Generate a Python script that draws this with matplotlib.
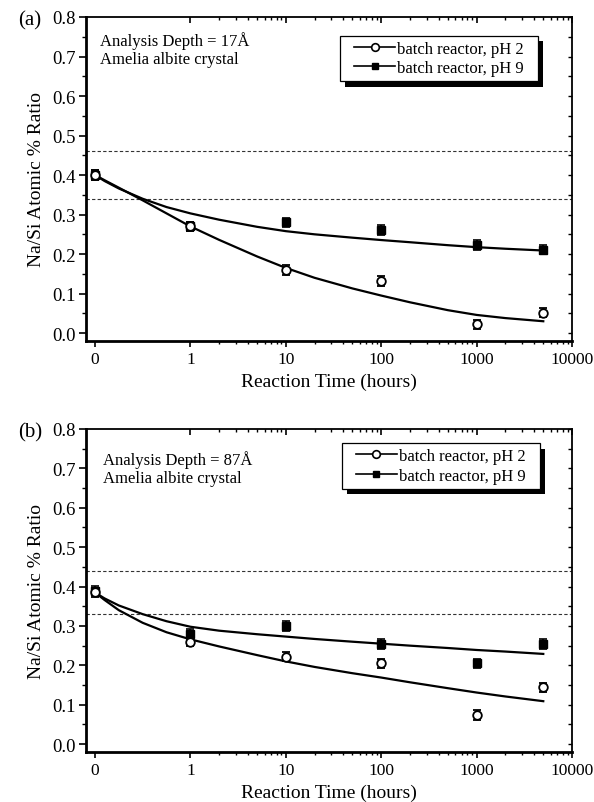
import numpy as np
import matplotlib
matplotlib.use("Agg")
import matplotlib.pyplot as plt
from matplotlib.patches import Rectangle
from matplotlib.transforms import IdentityTransform
from matplotlib.ticker import FixedLocator, NullFormatter

plt.rcParams['font.family'] = ['Liberation Serif', 'DejaVu Serif']

# ---------------- data ----------------
t_data = [0, 1, 10, 100, 1000, 5000]
t_fit = [0, 0.1, 0.25, 0.5, 0.75, 1, 2, 5, 10, 20, 50, 100, 200, 500, 1000, 2000, 5000]

a_ph2 = [0.40, 0.27, 0.16, 0.132, 0.022, 0.052]
a_ph9 = [0.40, 0.27, 0.28, 0.261, 0.223, 0.211]
a_err = 0.012
a_fit_ph2 = [0.400, 0.387, 0.368, 0.336, 0.303, 0.270, 0.236, 0.194, 0.165, 0.140,
             0.113, 0.095, 0.078, 0.058, 0.046, 0.038, 0.030]
a_fit_ph9 = [0.400, 0.385, 0.366, 0.340, 0.319, 0.303, 0.287, 0.269, 0.258, 0.250,
             0.2415, 0.2355, 0.230, 0.2225, 0.2175, 0.2135, 0.209]
a_ref = [0.46, 0.34]

b_ph2 = [0.385, 0.26, 0.222, 0.205, 0.074, 0.144]
b_ph9 = [0.39, 0.28, 0.30, 0.254, 0.205, 0.254]
b_err = 0.012
b_fit_ph2 = [0.385, 0.366, 0.340, 0.308, 0.284, 0.266, 0.248, 0.226, 0.210, 0.196,
             0.180, 0.169, 0.157, 0.142, 0.131, 0.121, 0.109]
b_fit_ph9 = [0.385, 0.370, 0.352, 0.330, 0.312, 0.298, 0.288, 0.279, 0.273, 0.267,
             0.260, 0.255, 0.250, 0.244, 0.239, 0.235, 0.229]
b_ref = [0.44, 0.33]

x_ticks = [0, 1, 10, 100, 1000, 10000]
x_ticklabels = ['0', '1', '10', '100', '1000', '10000']
y_ticks = [0.0, 0.1, 0.2, 0.3, 0.4, 0.5, 0.6, 0.7, 0.8]

legend_labels = ['batch reactor, pH 2', 'batch reactor, pH 9']
xlabel = 'Reaction Time (hours)'
ylabel = 'Na/Si Atomic % Ratio'

# ---------------- figure ----------------
W, H = 594, 803
fig = plt.figure(figsize=(W / 100, H / 100), dpi=100)

minor_x = [m * 10 ** k for k in range(0, 4) for m in range(2, 10)]
minor_y = list(np.arange(0.05, 0.8, 0.1))
XLIM = (-0.094, 10000)
YLIM = (-0.02, 0.8)
PADX = 9  # extra horizontal padding of legend frame (pixels)


def set_scale(a):
    a.set_xscale('symlog', linthresh=1, linscale=0.9)
    a.set_xlim(*XLIM)
    a.set_ylim(*YLIM)


def panel(rect, ph2, ph9, err, fit2, fit9, refs, depth, letter, txt_xy, leg_xy):
    ax = fig.add_axes(rect)
    set_scale(ax)
    for r in refs:
        ax.axhline(r, color='#333333', lw=0.8, ls=(0, (3, 2)), zorder=1)
    ax.plot(t_fit, fit9, color='k', lw=1.6, zorder=2)
    ax.plot(t_fit, fit2, color='k', lw=1.6, zorder=2)
    ax.errorbar(t_data, ph9, yerr=err, fmt='s', color='k', ms=5.5, mfc='k',
                capsize=3, elinewidth=1.2, capthick=1.2, zorder=3)
    ax.errorbar(t_data, ph2, yerr=err, fmt='o', color='k', ms=6.2, mfc='white',
                mew=1.3, capsize=3, elinewidth=1.2, capthick=1.2, zorder=4)

    ax.set_xticks(x_ticks)
    ax.set_xticklabels(x_ticklabels)
    ax.xaxis.set_minor_locator(FixedLocator(minor_x))
    ax.xaxis.set_minor_formatter(NullFormatter())
    ax.set_yticks(y_ticks)
    ax.set_yticklabels([f'{v:.1f}' for v in y_ticks])
    ax.yaxis.set_minor_locator(FixedLocator(minor_y))
    ax.tick_params(axis='both', which='both', top=False, right=False, direction='out')
    ax.tick_params(axis='x', which='major', length=4, width=1.2, pad=3.5, labelsize=12.5)
    ax.tick_params(axis='x', which='minor', length=2.3, width=1.0)
    ax.tick_params(axis='y', which='major', length=5, width=1.2, pad=2.5, labelsize=13.5)
    ax.tick_params(axis='y', which='minor', length=3, width=1.0)
    for s in ax.spines.values():
        s.set_linewidth(1.3)
    ax.spines['bottom'].set_linewidth(2.0)
    ax.spines['left'].set_linewidth(2.0)

    # top axis with inward ticks
    axt = ax.twiny()
    set_scale(axt)
    axt.set_xticks(x_ticks[1:])
    axt.xaxis.set_minor_locator(FixedLocator(minor_x))
    axt.tick_params(axis='x', which='major', direction='in', length=4, width=1.2,
                    labeltop=False, top=True, bottom=False)
    axt.tick_params(axis='x', which='minor', direction='in', length=2.3, width=1.0,
                    top=True, bottom=False)
    axt.set_xticklabels([])
    # right axis with inward ticks
    axr = ax.twinx()
    axr.set_ylim(*YLIM)
    axr.set_yticks(y_ticks)
    axr.yaxis.set_minor_locator(FixedLocator(minor_y))
    axr.tick_params(axis='y', which='both', direction='in', length=3, width=1.0,
                    labelright=False, right=True, left=False)
    for s in list(axt.spines.values()) + list(axr.spines.values()):
        s.set_visible(False)

    ax.set_xlabel(xlabel, fontsize=14, labelpad=4)
    ax.set_ylabel(ylabel, fontsize=14, labelpad=5)
    ax.text(txt_xy[0], txt_xy[1], f'Analysis Depth = {depth}Å\nAmelia albite crystal',
            transform=ax.transAxes, fontsize=12, va='top', ha='left',
            linespacing=1.15)
    fig.text(0.03, rect[1] + rect[3] - 3 / H, letter, fontsize=15, ha='left', va='center')

    h2 = plt.Line2D([], [], color='k', lw=1.2, marker='o', mfc='white', ms=5.5, mew=1.2)
    h9 = plt.Line2D([], [], color='k', lw=1.2, marker='s', mfc='k', ms=5)
    leg = ax.legend([h2, h9], legend_labels, loc='upper right',
                    bbox_to_anchor=(leg_xy[0] - PADX / 486, leg_xy[1]), borderaxespad=0,
                    fontsize=12, handlelength=2.5, handletextpad=0.12, borderpad=0.3,
                    labelspacing=0.2, frameon=False, numpoints=1)
    leg.set_zorder(10)
    return ax, leg


ax_a, leg_a = panel([86 / W, 1 - 342 / H, (572 - 86) / W, (342 - 18) / H],
                    a_ph2, a_ph9, a_err, a_fit_ph2, a_fit_ph9, a_ref, 17, '(a)',
                    (0.029, 0.955), (0.930, 0.942))
ax_b, leg_b = panel([86 / W, 1 - 753 / H, (572 - 86) / W, (753 - 430) / H],
                    b_ph2, b_ph9, b_err, b_fit_ph2, b_fit_ph9, b_ref, 87, '(b)',
                    (0.035, 0.935), (0.934, 0.956))

# legend frames with black drop shadows
fig.canvas.draw()
for ax, leg in ((ax_a, leg_a), (ax_b, leg_b)):
    bb = leg.get_window_extent()
    x0, y0, w, h = bb.x0 - PADX, bb.y0, bb.width + 2 * PADX, bb.height
    off = 5.5
    shadow = Rectangle((x0 + off, y0 - off), w, h, transform=IdentityTransform(),
                       facecolor='k', edgecolor='none', zorder=8, clip_on=False)
    frame = Rectangle((x0, y0), w, h, transform=IdentityTransform(),
                      facecolor='white', edgecolor='k', lw=0.9, zorder=9, clip_on=False)
    ax.add_patch(shadow)
    ax.add_patch(frame)

fig.savefig('out.png', dpi=100)
